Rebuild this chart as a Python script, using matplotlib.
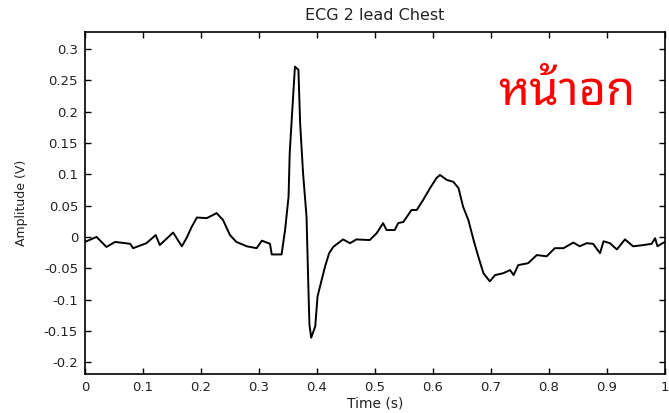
import matplotlib
matplotlib.use("Agg")
import matplotlib.pyplot as plt
from matplotlib import font_manager as fm
from matplotlib.ft2font import FT2Font

time_s = [0.000, 0.020, 0.037, 0.052, 0.078, 0.083, 0.106, 0.122, 0.129, 0.152,
          0.167, 0.175, 0.184, 0.193, 0.210, 0.227, 0.238, 0.250, 0.261, 0.279,
          0.296, 0.305, 0.319, 0.322, 0.339, 0.345, 0.351, 0.353, 0.358, 0.362,
          0.368, 0.371, 0.376, 0.382, 0.385, 0.387, 0.390, 0.397, 0.401, 0.408,
          0.414, 0.421, 0.428, 0.445, 0.457, 0.468, 0.491, 0.503, 0.514, 0.520,
          0.534, 0.540, 0.549, 0.563, 0.572, 0.583, 0.595, 0.606, 0.612, 0.624,
          0.635, 0.644, 0.652, 0.661, 0.670, 0.678, 0.687, 0.698, 0.707, 0.721,
          0.733, 0.739, 0.747, 0.764, 0.779, 0.796, 0.810, 0.825, 0.842, 0.853,
          0.865, 0.876, 0.888, 0.894, 0.905, 0.917, 0.931, 0.945, 0.963, 0.977,
          0.983, 0.987, 0.994, 1.000]
amplitude = [-0.008, 0.000, -0.016, -0.008, -0.011, -0.018, -0.010, 0.003, -0.013, 0.007,
             -0.015, -0.002, 0.016, 0.031, 0.030, 0.038, 0.027, 0.003, -0.008, -0.015,
             -0.018, -0.006, -0.011, -0.028, -0.028, 0.011, 0.064, 0.134, 0.211, 0.272,
             0.267, 0.181, 0.102, 0.032, -0.074, -0.140, -0.161, -0.143, -0.095, -0.069,
             -0.047, -0.026, -0.016, -0.004, -0.010, -0.004, -0.005, 0.006, 0.022, 0.011,
             0.011, 0.022, 0.024, 0.043, 0.043, 0.059, 0.078, 0.094, 0.099, 0.091,
             0.088, 0.078, 0.048, 0.027, -0.005, -0.031, -0.058, -0.071, -0.061, -0.058,
             -0.053, -0.061, -0.045, -0.042, -0.029, -0.031, -0.018, -0.018, -0.009, -0.015,
             -0.010, -0.011, -0.026, -0.007, -0.010, -0.020, -0.004, -0.015, -0.013, -0.011,
             -0.002, -0.015, -0.011, -0.008]

x_ticks = [0, 0.1, 0.2, 0.3, 0.4, 0.5, 0.6, 0.7, 0.8, 0.9, 1]
x_tick_labels = ["0", "0.1", "0.2", "0.3", "0.4", "0.5", "0.6", "0.7", "0.8", "0.9", "1"]
y_ticks = [-0.2, -0.15, -0.1, -0.05, 0, 0.05, 0.1, 0.15, 0.2, 0.25, 0.3]
y_tick_labels = ["-0.2", "-0.15", "-0.1", "-0.05", "0", "0.05", "0.1", "0.15", "0.2", "0.25", "0.3"]
title = "ECG 2 lead Chest"
x_label = "Time (s)"
y_label = "Amplitude (V)"
annotation = "หน้าอก"


def find_thai_font():
    prefs = ["Noto Sans Thai", "Noto Sans Thai UI", "Loma", "Garuda", "Waree", "Umpush",
             "Sawasdee", "Tlwg", "Norasi", "Kinnari", "Noto Looped Thai"]
    cands = []
    for f in fm.fontManager.ttflist:
        try:
            cm = FT2Font(f.fname).get_charmap()
        except Exception:
            continue
        if 0x0E2B in cm and 0x0E19 in cm and 0x0E49 in cm:
            w = f.weight if isinstance(f.weight, int) else 400
            fn = f.fname.lower()
            pen = abs(w - 400)
            if 'bold' in fn or 'black' in fn or 'heavy' in fn or 'semi' in fn:
                pen += 500
            if 'light' in fn or 'thin' in fn:
                pen += 300
            if f.style != 'normal' or 'oblique' in fn or 'italic' in fn:
                pen += 1000
            if 'condensed' in fn:
                pen += 200
            cands.append((f.name, pen, f.fname))
    for p in prefs:
        sel = [c for c in cands if c[0].startswith(p)]
        if sel:
            sel.sort(key=lambda c: c[1])
            return sel[0][2]
    if cands:
        cands.sort(key=lambda c: c[1])
        return cands[0][2]
    return None


plt.rcParams['font.family'] = ['DejaVu Sans']
plt.rcParams['axes.unicode_minus'] = False
thai_file = find_thai_font()

fig = plt.figure(figsize=(6.69, 4.13), dpi=100)
ax = fig.add_axes([0.127, 0.0944, 0.867, 0.8276])
ax.plot(time_s, amplitude, color='black', linewidth=1.4)
ax.set_xlim(0, 1)
ax.set_ylim(-0.219, 0.327)
ax.set_xticks(x_ticks)
ax.set_xticklabels(x_tick_labels)
ax.set_yticks(y_ticks)
ax.set_yticklabels(y_tick_labels)
ax.tick_params(direction='in', top=True, right=True, length=4, width=1, labelsize=9.5, pad=5,
               labelcolor='#222222')
for s in ax.spines.values():
    s.set_linewidth(1.2)
ax.set_title(title, fontsize=11.5, pad=9, color='#222222')
ax.set_xlabel(x_label, fontsize=10, labelpad=2, color='#222222')
ax.set_ylabel(y_label, fontsize=9, labelpad=11, color='#222222')

if thai_file:
    fp = fm.FontProperties(fname=thai_file, size=34, weight='normal')
    ax.text(0.8305, 0.787, annotation, transform=ax.transAxes, color='#ff0000',
            ha='center', va='baseline', fontproperties=fp)
else:
    ax.text(0.8305, 0.787, annotation, transform=ax.transAxes, color='#ff0000',
            fontsize=34, ha='center', va='baseline')

fig.savefig("out.png", dpi=100)
